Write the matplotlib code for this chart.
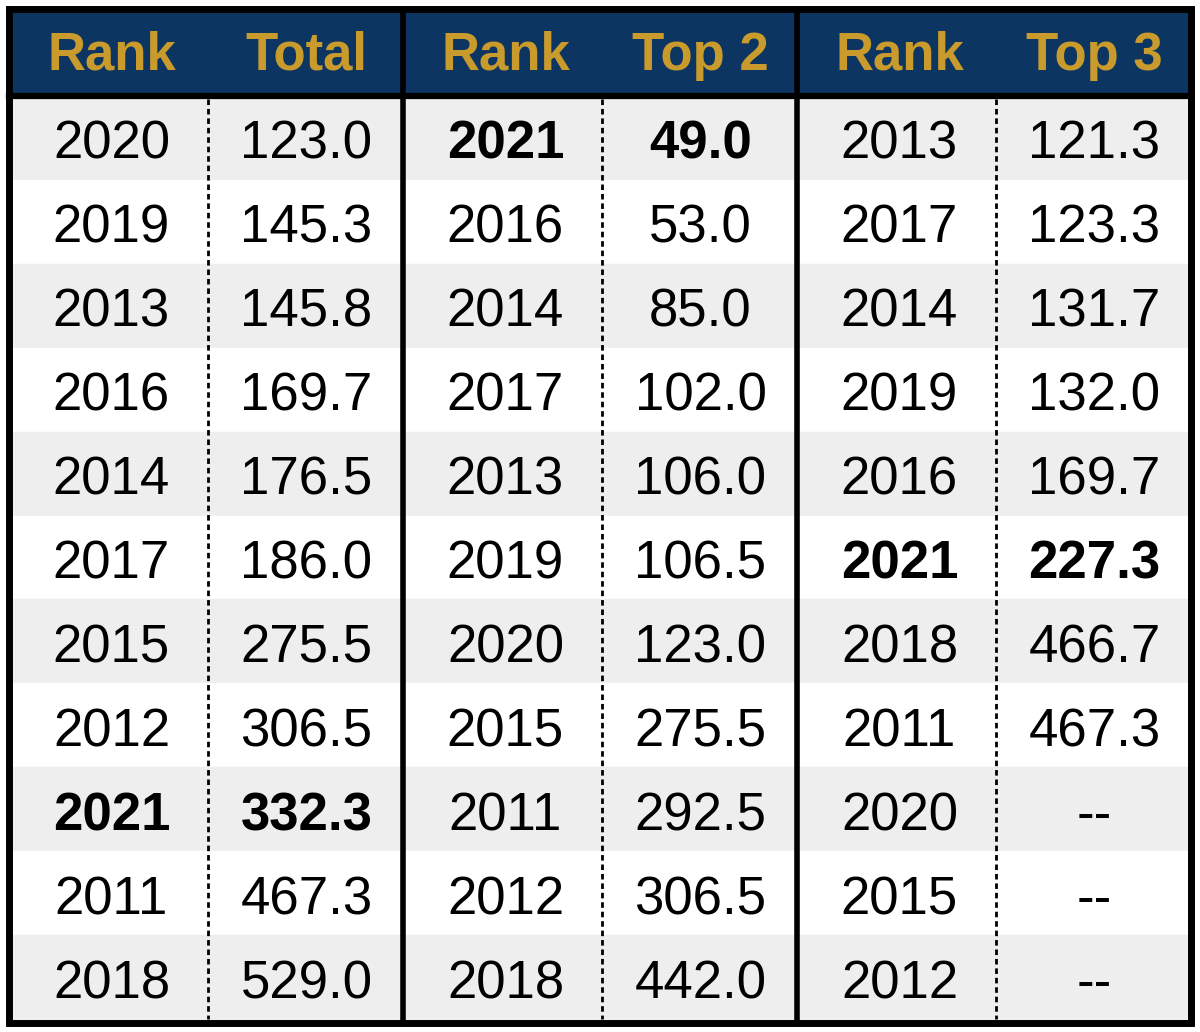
import matplotlib.pyplot as plt
from matplotlib.patches import Rectangle

plt.rcParams['font.family'] = ['Liberation Sans', 'DejaVu Sans']

# data, one block per group
headers = [("Rank", "Total"), ("Rank", "Top 2"), ("Rank", "Top 3")]

total_years = ["2020", "2019", "2013", "2016", "2014", "2017", "2015", "2012", "2021", "2011", "2018"]
total_vals = ["123.0", "145.3", "145.8", "169.7", "176.5", "186.0", "275.5", "306.5", "332.3", "467.3", "529.0"]

top2_years = ["2021", "2016", "2014", "2017", "2013", "2019", "2020", "2015", "2011", "2012", "2018"]
top2_vals = ["49.0", "53.0", "85.0", "102.0", "106.0", "106.5", "123.0", "275.5", "292.5", "306.5", "442.0"]

top3_years = ["2013", "2017", "2014", "2019", "2016", "2021", "2018", "2011", "2020", "2015", "2012"]
top3_vals = ["121.3", "123.3", "131.7", "132.0", "169.7", "227.3", "466.7", "467.3", "--", "--", "--"]

highlight = "2021"

groups = [(total_years, total_vals), (top2_years, top2_vals), (top3_years, top3_vals)]

navy = "#0C3562"
gold = "#C99A2C"
stripe = "#EEEEEE"

fig = plt.figure(figsize=(12, 10.32), dpi=100)
ax = fig.add_axes([0, 0, 1, 1])
ax.set_xlim(0, 1200)
ax.set_ylim(1032, 0)
ax.axis("off")

left, right = 9, 1191
top, bottom = 9, 1023
head_bot = 96
n = len(total_years)
row_h = (bottom - 4 - head_bot) / n
gw = (right - left) / 3
fs = 38

# header band
ax.add_patch(Rectangle((left, top), right - left, head_bot - top, color=navy, zorder=1))

# striped rows
for i in range(n):
    y0 = head_bot + i * row_h
    c = stripe if i % 2 == 0 else "white"
    ax.add_patch(Rectangle((left, y0), right - left, row_h, color=c, zorder=1))

for g, (yrs, vals) in enumerate(groups):
    gx = left + g * gw
    c1 = gx + gw * 0.26
    c2 = gx + gw * 0.755
    mid = gx + gw * 0.505
    ax.text(c1, 56, headers[g][0], ha="center", va="center", fontsize=fs,
            fontweight="bold", color=gold, zorder=3)
    ax.text(c2, 56, headers[g][1], ha="center", va="center", fontsize=fs,
            fontweight="bold", color=gold, zorder=3)
    ax.plot([mid, mid], [head_bot + 3, bottom - 4], color="black", lw=2,
            ls=(0, (2.0, 1.4)), zorder=2)
    for i, (yr, v) in enumerate(zip(yrs, vals)):
        yc = head_bot + (i + 0.5) * row_h + 7
        w = "bold" if yr == highlight else "normal"
        ax.text(c1, yc, yr, ha="center", va="center", fontsize=fs, fontweight=w, zorder=3)
        ax.text(c2, yc, v, ha="center", va="center", fontsize=fs, fontweight=w, zorder=3)
    if g > 0:
        ax.plot([gx, gx], [top, bottom], color="black", lw=4, zorder=4,
                solid_capstyle="butt")

# header rule and outer frame
ax.plot([left, right], [head_bot, head_bot], color="black", lw=4.5, zorder=4)
ax.add_patch(Rectangle((left, top), right - left, bottom - top, fill=False,
                       edgecolor="black", lw=5, zorder=5))

fig.savefig("out.png", dpi=100)
